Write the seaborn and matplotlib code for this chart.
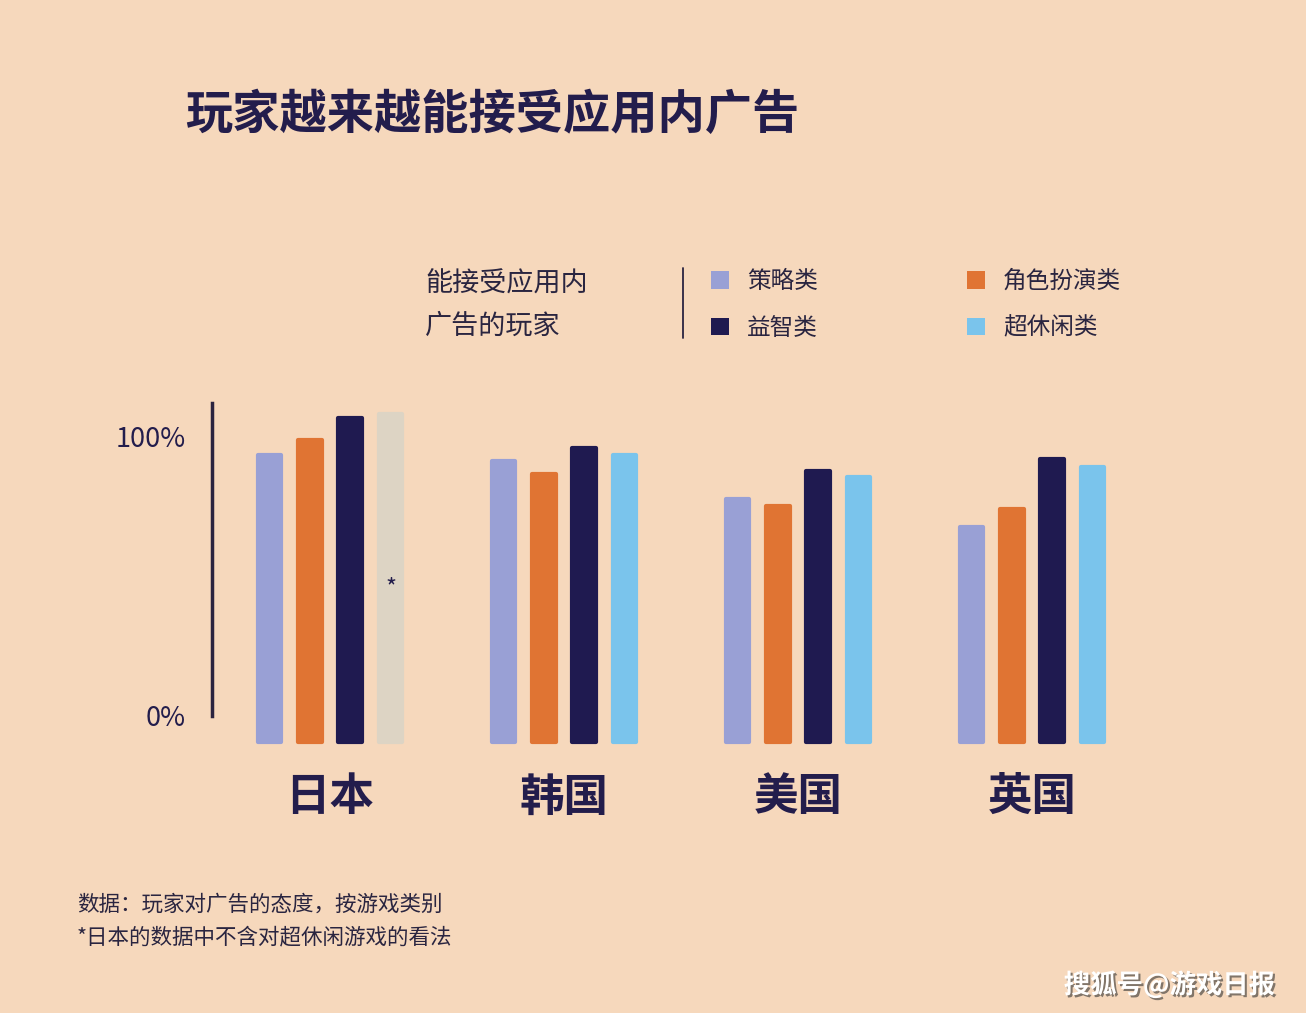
import matplotlib
matplotlib.use("Agg")
import matplotlib.pyplot as plt
import matplotlib.patheffects as pe
from matplotlib.lines import Line2D
from matplotlib.patches import Patch
import seaborn as sns
import pandas as pd

# ---------------- data ----------------
countries = ["日本", "韩国", "美国", "英国"]
genres = ["策略类", "角色扮演类", "益智类", "超休闲类"]
strategy = [93.5, 91.4, 77.6, 67.7]
rpg = [98.9, 86.7, 75.1, 74.2]
puzzle = [106.8, 96.0, 87.8, 92.1]
hypercasual = [108.2, 93.5, 85.7, 89.2]   # 日本: 无数据（占位条，*）
no_data_country = "日本"
no_data_genre = "超休闲类"
bar_base = -9.3
y_ticks = [0, 100]
y_tick_labels = ["0%", "100%"]

colors = {"策略类": "#99a0d5", "角色扮演类": "#e07433",
          "益智类": "#1f1a50", "超休闲类": "#7ac4ec"}
placeholder_color = "#ddd4c4"
text_dark = "#231d4c"
bg = "#f6d8bc"

rows = []
for g, vals in zip(genres, [strategy, rpg, puzzle, hypercasual]):
    for c, v in zip(countries, vals):
        rows.append({"country": c, "genre": g, "value": v})
df = pd.DataFrame(rows)

# ---------------- style ----------------
sns.set_style("white")
plt.rcParams["font.family"] = ["Noto Sans CJK SC", "DejaVu Sans"]

W, H = 1306, 1013
fig = plt.figure(figsize=(W / 100, H / 100), dpi=100)
fig.patch.set_facecolor(bg)

ax_l, ax_r, ax_t, ax_b = 212, 1130, 403, 748
ax = fig.add_axes([ax_l / W, 1 - ax_b / H, (ax_r - ax_l) / W, (ax_b - ax_t) / H])
ax.set_facecolor(bg)

sns.barplot(data=df, x="country", y="value", hue="genre", order=countries,
            hue_order=genres, palette=colors, saturation=1, width=0.69,
            gap=0.42, legend=False, ax=ax)

px_per_unit_y = 2.79
ax.set_ylim((716 - ax_b) / px_per_unit_y, (716 - ax_t) / px_per_unit_y)
x0_px, px_per_cat = 330, 234
ax.set_xlim((ax_l - x0_px) / px_per_cat, (ax_r - x0_px) / px_per_cat)

# style bars: rounded ends, start below baseline
ci = countries.index(no_data_country)
gi = genres.index(no_data_genre)
for i, p in enumerate(ax.patches):
    h = p.get_y() + p.get_height()
    p.set_y(bar_base)
    p.set_height(h - bar_base)
    fc = p.get_facecolor()
    if i == gi * len(countries) + ci:
        p.set_facecolor(placeholder_color)
        fc = placeholder_color
        cx = p.get_x() + p.get_width() / 2
        ax.text(cx, 46, "*", ha="center", va="center", fontsize=17,
                color=text_dark)
    p.set_edgecolor(fc)
    p.set_linewidth(3)
    p.set_joinstyle("round")

# axes
for s in ["top", "right", "bottom"]:
    ax.spines[s].set_visible(False)
ax.spines["left"].set_color("#2b2440")
ax.spines["left"].set_linewidth(2.5)
ax.spines["left"].set_bounds(0, ax.get_ylim()[1])
ax.set_yticks(y_ticks)
ax.set_yticklabels(y_tick_labels, fontsize=19.5, color=text_dark)
ax.tick_params(axis="y", length=0, pad=19)
ax.tick_params(axis="x", length=0, pad=19)
for lab in ax.get_xticklabels():
    lab.set_fontsize(32)
    lab.set_fontweight("bold")
    lab.set_color(text_dark)
ax.set_xlabel("")
ax.set_ylabel("")

# title
fig.text(185 / W, 1 - 115 / H, "玩家越来越能接受应用内广告", fontsize=34,
         fontweight="bold", color=text_dark, ha="left", va="center")

# legend block
fig.text(425 / W, 1 - 305 / H, "能接受应用内\n广告的玩家", fontsize=19.5,
         color="#2a2540", ha="left", va="center", linespacing=1.75)
fig.add_artist(Line2D([683 / W, 683 / W], [1 - 268 / H, 1 - 338 / H],
                      color="#2b2440", lw=1.3, transform=fig.transFigure))
handles = [Patch(facecolor=colors[g], edgecolor="none") for g in
           ["策略类", "益智类", "角色扮演类", "超休闲类"]]
labels = ["策略类", "益智类", "角色扮演类", "超休闲类"]
leg = fig.legend(handles, labels, ncol=2, loc="upper left",
                 bbox_to_anchor=(711 / W, 1 - 270 / H), frameon=False,
                 fontsize=17, handlelength=0.78, handleheight=0.78,
                 handletextpad=0.75, columnspacing=6.3, labelspacing=1.0,
                 borderpad=0, borderaxespad=0)
for t in leg.get_texts():
    t.set_color("#2a2540")

# footnotes
fig.text(77 / W, 1 - 905 / H, "数据：玩家对广告的态度，按游戏类别", fontsize=15.5,
         color="#2a2540", ha="left", va="center")
fig.text(77 / W, 1 - 937 / H, "*日本的数据中不含对超休闲游戏的看法", fontsize=15.5,
         color="#2a2540", ha="left", va="center")

# watermark
fig.text(1275 / W, 1 - 985 / H, "搜狐号@游戏日报", fontsize=19, fontweight="bold",
         color="white", ha="right", va="center",
         path_effects=[pe.withSimplePatchShadow(offset=(1.5, -1.5),
                                                shadow_rgbFace="#333333",
                                                alpha=0.6)])

fig.savefig("out.png", dpi=100, facecolor=bg)
